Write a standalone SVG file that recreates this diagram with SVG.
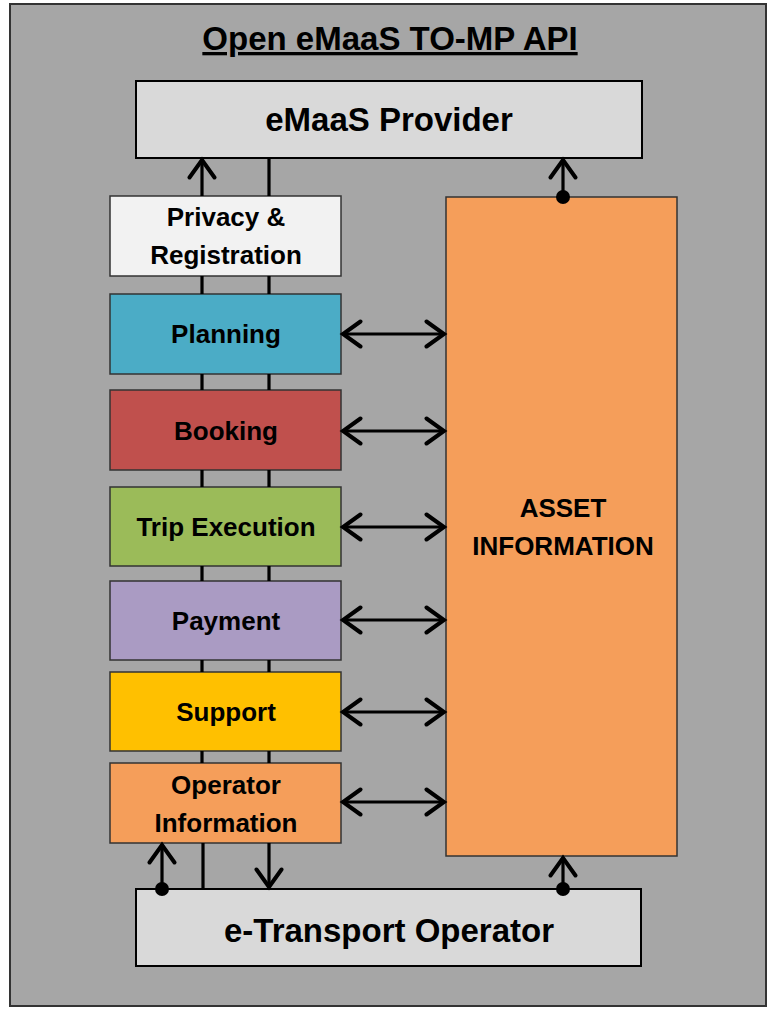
<svg xmlns="http://www.w3.org/2000/svg" width="768" height="1010" viewBox="0 0 768 1010">
<defs>
<marker id="arr" markerUnits="userSpaceOnUse" markerWidth="30" markerHeight="30" viewBox="-16 -12 20 24" refX="0" refY="0" orient="auto">
<path d="M-14 -10 L0 0 L-14 10" fill="none" stroke="#000" stroke-width="3.2" stroke-linecap="round" stroke-linejoin="miter"/>
</marker>
<marker id="arrs" markerUnits="userSpaceOnUse" markerWidth="30" markerHeight="30" viewBox="-16 -12 20 24" refX="0" refY="0" orient="auto-start-reverse">
<path d="M-14 -10 L0 0 L-14 10" fill="none" stroke="#000" stroke-width="3.2" stroke-linecap="round"/>
</marker>
</defs>
<style>
.box{stroke:#333;stroke-width:1.5}
.big{fill:#d9d9d9;stroke:#000;stroke-width:2}
.t{font-family:"Liberation Sans",Arial,sans-serif;font-weight:bold;fill:#000;text-anchor:middle}
.m{font-size:26px}
.l{font-size:33px}
.c{fill:none;stroke:#000;stroke-width:3.2}
</style>
<rect x="10" y="4" width="756" height="1002" fill="#a6a6a6" stroke="#333" stroke-width="2"/>
<text class="t" x="390" y="50" font-size="33" text-decoration="underline">Open eMaaS TO-MP API</text>

<g id="provider"><rect class="big" x="136" y="81" width="506" height="77"/><text class="t l" x="389" y="131">eMaaS Provider</text></g>
<g id="privacy"><rect class="box" x="110" y="196" width="231" height="80" fill="#f2f2f2"/><text class="t m" x="226" y="226">Privacy &amp;</text><text class="t m" x="226" y="264">Registration</text></g>
<g id="planning"><rect class="box" x="110" y="294" width="231" height="80" fill="#4bacc6"/><text class="t m" x="226" y="343">Planning</text></g>
<g id="booking"><rect class="box" x="110" y="390" width="231" height="80" fill="#c0504d"/><text class="t m" x="226" y="440">Booking</text></g>
<g id="trip"><rect class="box" x="110" y="487" width="231" height="79" fill="#9bbb59"/><text class="t m" x="226" y="536">Trip Execution</text></g>
<g id="payment"><rect class="box" x="110" y="581" width="231" height="79" fill="#aa9bc3"/><text class="t m" x="226" y="630">Payment</text></g>
<g id="support"><rect class="box" x="110" y="672" width="231" height="79" fill="#ffc000"/><text class="t m" x="226" y="721">Support</text></g>
<g id="operatorinfo"><rect class="box" x="110" y="763" width="231" height="80" fill="#f59e5a"/><text class="t m" x="226" y="794">Operator</text><text class="t m" x="226" y="832">Information</text></g>
<g id="asset"><rect class="box" x="446" y="197" width="231" height="659" fill="#f59e5a"/><text class="t m" x="563" y="517">ASSET</text><text class="t m" x="563" y="555">INFORMATION</text></g>
<g id="operator"><rect class="big" x="136" y="889" width="505" height="77"/><text class="t l" x="389" y="942">e-Transport Operator</text></g>

<g id="connectors">
<path class="c" d="M202 196 V160" marker-end="url(#arr)"/>
<path class="c" d="M202 276 V294 M202 374 V390 M202 470 V487 M202 566 V581 M202 660 V672 M202 751 V763"/>
<path class="c" d="M269 158 V196 M269 276 V294 M269 374 V390 M269 470 V487 M269 566 V581 M269 660 V672 M269 751 V763"/>
<path class="c" d="M203 843 V889"/>
<path class="c" d="M269 843 V887" marker-end="url(#arr)"/>
<path class="c" d="M162 889 V845" marker-end="url(#arr)"/>
<circle cx="162" cy="889" r="7"/>
<path class="c" d="M563 197 V160" marker-end="url(#arr)"/>
<circle cx="563" cy="197" r="7"/>
<path class="c" d="M563 889 V858" marker-end="url(#arr)"/>
<circle cx="563" cy="889" r="7"/>
<path class="c" d="M343 334 H444" marker-start="url(#arrs)" marker-end="url(#arrs)"/>
<path class="c" d="M343 431 H444" marker-start="url(#arrs)" marker-end="url(#arrs)"/>
<path class="c" d="M343 527 H444" marker-start="url(#arrs)" marker-end="url(#arrs)"/>
<path class="c" d="M343 620 H444" marker-start="url(#arrs)" marker-end="url(#arrs)"/>
<path class="c" d="M343 712 H444" marker-start="url(#arrs)" marker-end="url(#arrs)"/>
<path class="c" d="M343 802 H444" marker-start="url(#arrs)" marker-end="url(#arrs)"/>
</g>
</svg>
